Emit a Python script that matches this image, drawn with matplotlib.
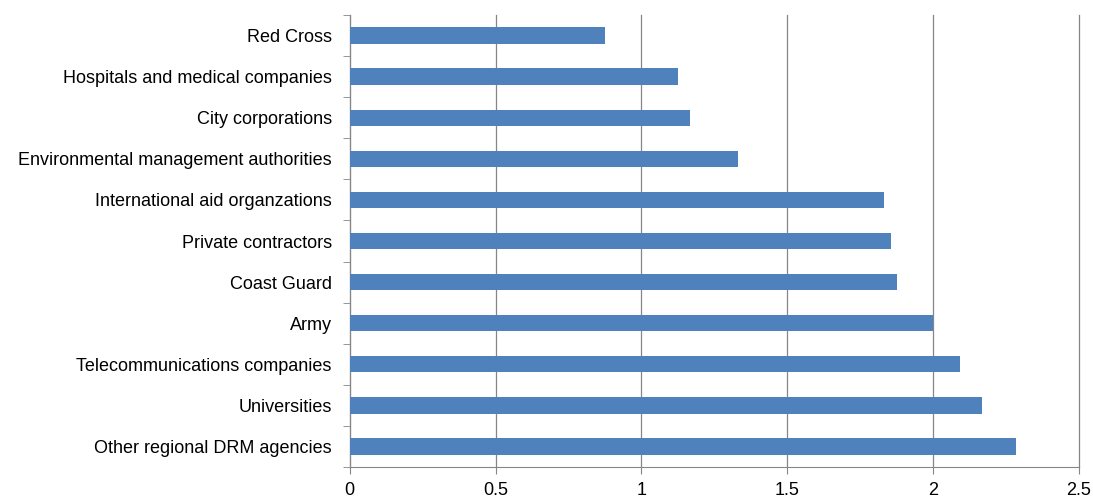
import matplotlib.pyplot as plt
import numpy as np

categories = [
    "Other regional DRM agencies",
    "Universities",
    "Telecommunications companies",
    "Army",
    "Coast Guard",
    "Private contractors",
    "International aid organzations",
    "Environmental management authorities",
    "City corporations",
    "Hospitals and medical companies",
    "Red Cross",
]
values = [2.286, 2.167, 2.094, 2.0, 1.875, 1.857, 1.833, 1.333, 1.167, 1.125, 0.875]
xticks = [0, 0.5, 1, 1.5, 2, 2.5]

plt.rcParams['font.family'] = ['Liberation Sans', 'DejaVu Sans']

fig = plt.figure(figsize=(10.93, 5), dpi=100)
ax = fig.add_axes([0.32, 0.066, 0.667, 0.904])

y = np.arange(len(categories))
ax.barh(y, values, height=0.4, color='#4F81BD', zorder=3)

ax.set_xlim(0, 2.5)
ax.set_ylim(-0.5, len(categories) - 0.5)
ax.set_xticks(xticks)
ax.set_xticklabels(["0", "0.5", "1", "1.5", "2", "2.5"], fontsize=13)
ax.set_yticks(y)
ax.set_yticklabels(categories, fontsize=13)
ax.tick_params(axis='y', length=0, pad=13)
ax.set_yticks(np.arange(-0.5, len(categories), 1), minor=True)
ax.tick_params(axis='y', which='minor', length=5, color='#868686')
ax.tick_params(axis='x', length=5, color='#868686', direction='out', pad=6)

ax.grid(axis='x', color='#868686', linewidth=0.9, zorder=0)
for gl in ax.get_xgridlines():
    gl.set_clip_on(False)
for s in ['top', 'right']:
    ax.spines[s].set_visible(False)
for s in ['left', 'bottom']:
    ax.spines[s].set_color('#868686')

fig.savefig('out.png', dpi=100)
